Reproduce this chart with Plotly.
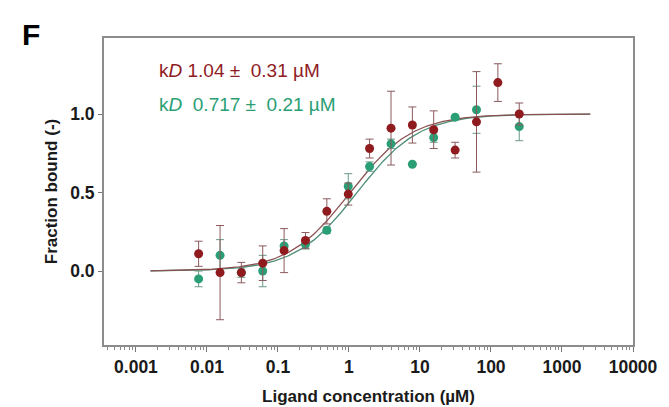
import numpy as np
import plotly.graph_objects as go

# Ligand concentrations (µM), 2-fold dilution series
conc = [0.00763, 0.0153, 0.0305, 0.061, 0.122, 0.244, 0.488, 0.977,
        1.95, 3.91, 7.81, 15.6, 31.25, 62.5, 125, 250]

red_y   = [0.11, -0.01, -0.01, 0.05, 0.13, 0.195, 0.38, 0.49,
           0.78, 0.91, 0.93, 0.90, 0.77, 0.95, 1.20, 1.00]
red_err = [0.08, 0.30, 0.065, 0.11, 0.14, 0.05, 0.08, 0.07,
           0.06, 0.235, 0.115, 0.12, 0.05, 0.32, 0.12, 0.07]

green_y   = [-0.05, 0.10, -0.01, 0.0, 0.16, 0.17, 0.26, 0.54,
             0.665, 0.81, 0.68, 0.85, 0.98, 1.027, None, 0.92]
green_err = [0.05, 0.10, 0.03, 0.10, 0.04, 0.03, 0.02, 0.08,
             0.03, 0.03, 0.0, 0.03, 0.0, 0.15, None, 0.09]

# Fit parameters (drawn curve)
kd_red_curve = 1.04
kd_green_curve = 1.3
curve_min, curve_max = 0.0016, 2500

x_tick_vals = [0.001, 0.01, 0.1, 1, 10, 100, 1000, 10000]
x_tick_text = ["0.001", "0.01", "0.1", "1", "10", "100", "1000", "10000"]
y_tick_vals = [0.0, 0.5, 1.0]
y_tick_text = ["0.0", "0.5", "1.0"]

label_red = "k<i>D</i> 1.04 ±  0.31 µM"
label_green = "k<i>D</i>  0.717 ±  0.21 µM"

RED = "#901b1f"
GREEN = "#2a9e74"
RED_LINE = "#8a5050"
GREEN_LINE = "#4f8f78"
FONT = "Liberation Sans, Arial, sans-serif"

xc = np.logspace(np.log10(curve_min), np.log10(curve_max), 300)
fit_red = xc / (xc + kd_red_curve)
fit_green = xc / (xc + kd_green_curve)

minor_vals = [k * 10.0 ** e for e in range(-4, 4) for k in range(2, 10)]

fig = go.Figure()
fig.add_trace(go.Scatter(x=xc, y=fit_green, mode="lines",
                         line=dict(color=GREEN_LINE, width=1.3), hoverinfo="skip"))
fig.add_trace(go.Scatter(x=xc, y=fit_red, mode="lines",
                         line=dict(color=RED_LINE, width=1.3), hoverinfo="skip"))
fig.add_trace(go.Scatter(x=conc, y=green_y, mode="markers",
                         marker=dict(color=GREEN, size=9),
                         error_y=dict(type="data", array=green_err, color="#6a9a88",
                                      thickness=1, width=4)))
fig.add_trace(go.Scatter(x=conc, y=red_y, mode="markers",
                         marker=dict(color=RED, size=9),
                         error_y=dict(type="data", array=red_err, color="#8a5a5e",
                                      thickness=1, width=4)))

tick_font = dict(family=FONT, size=17.5, color="#1a1a1a")
title_font = dict(family=FONT, size=17, color="#1a1a1a")

fig.update_xaxes(type="log", range=[-3.45, 4.0], automargin=False,
                 tickvals=x_tick_vals,
                 ticktext=["<b>%s</b>" % t for t in x_tick_text],
                 ticks="outside", ticklen=5, tickcolor="#777", tickwidth=1,
                 minor=dict(ticks="outside", ticklen=3, tickcolor="#888",
                            tickvals=minor_vals, showgrid=False),
                 showline=True, linecolor="#8c8c8c", linewidth=2, mirror=True,
                 showgrid=False, zeroline=False, tickfont=tick_font,
                 title=dict(text="<b>Ligand concentration (µM)</b>", font=title_font, standoff=14))
fig.update_yaxes(range=[-0.471, 1.484], automargin=False,
                 tickvals=y_tick_vals,
                 ticktext=["<b>%s</b>" % t for t in y_tick_text],
                 ticks="outside", ticklen=4, tickcolor="#777", tickwidth=1,
                 showline=True, linecolor="#8c8c8c", linewidth=2, mirror=True,
                 showgrid=False, zeroline=False, tickfont=tick_font,
                 title=dict(text="<b>Fraction bound (-)</b>", font=title_font, standoff=8))

fig.add_annotation(xref="paper", yref="paper", x=0.1, y=0.895, xanchor="left", yanchor="middle",
                   text=label_red, showarrow=False,
                   font=dict(family=FONT, size=19, color=RED))
fig.add_annotation(xref="paper", yref="paper", x=0.1, y=0.782, xanchor="left", yanchor="middle",
                   text=label_green, showarrow=False,
                   font=dict(family=FONT, size=19, color=GREEN))
fig.add_annotation(xref="paper", yref="paper", x=-0.138, y=1.013, xanchor="center", yanchor="middle",
                   text="<b>F</b>", showarrow=False,
                   font=dict(family=FONT, size=30, color="#000"))

fig.update_layout(width=669, height=407, showlegend=False,
                  margin=dict(l=96, r=44, t=30, b=70),
                  plot_bgcolor="white", paper_bgcolor="white")

fig.write_html("out.html")
